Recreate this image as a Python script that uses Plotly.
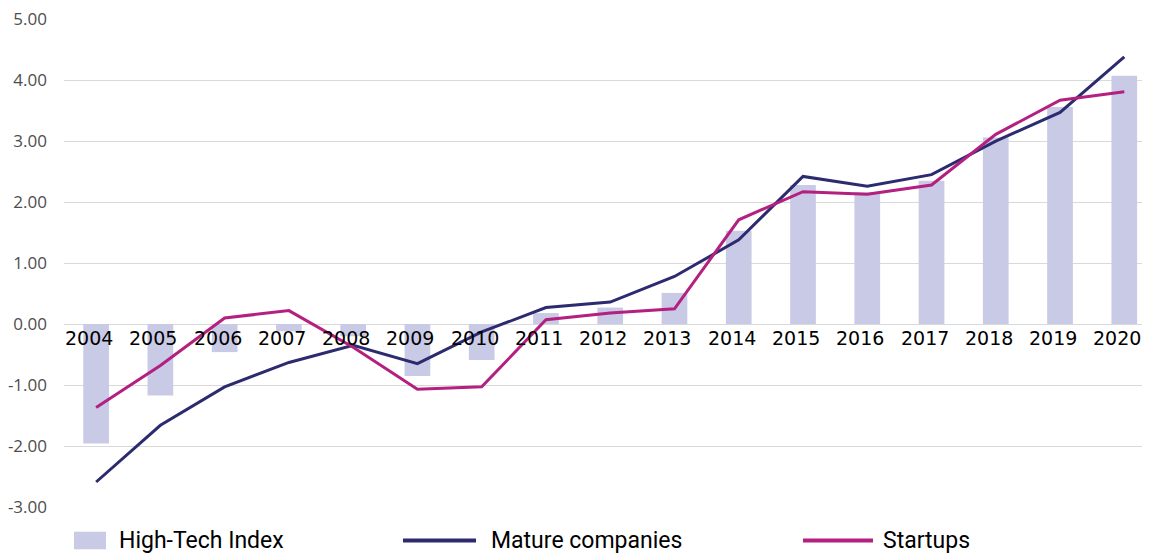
import plotly.graph_objects as go

years = ["2004", "2005", "2006", "2007", "2008", "2009", "2010", "2011", "2012",
         "2013", "2014", "2015", "2016", "2017", "2018", "2019", "2020"]
high_tech_index = [-1.96, -1.17, -0.46, -0.12, -0.20, -0.85, -0.59, 0.18, 0.27,
                   0.51, 1.53, 2.28, 2.16, 2.35, 3.06, 3.56, 4.07]
mature_companies = [-2.59, -1.66, -1.03, -0.63, -0.35, -0.65, -0.13, 0.27, 0.36,
                    0.78, 1.38, 2.42, 2.26, 2.45, 3.00, 3.47, 4.38]
startups = [-1.37, -0.68, 0.10, 0.22, -0.38, -1.07, -1.03, 0.07, 0.18,
            0.25, 1.71, 2.17, 2.13, 2.28, 3.11, 3.67, 3.81]
y_ticks = [-3, -2, -1, 0, 1, 2, 3, 4, 5]
y_tick_labels = ["-3.00", "-2.00", "-1.00", "0.00", "1.00", "2.00", "3.00", "4.00", "5.00"]

BAR_C = "#C9CAE6"
NAVY = "#2D2B6F"
MAGENTA = "#B3207F"

fig = go.Figure()
fig.add_trace(go.Bar(x=years, y=high_tech_index, name="High-Tech Index",
                     marker=dict(color=BAR_C, line=dict(width=0)), showlegend=False))
fig.add_trace(go.Scatter(x=years, y=mature_companies, name="Mature companies", mode="lines",
                         line=dict(color=NAVY, width=3), showlegend=False))
fig.add_trace(go.Scatter(x=years, y=startups, name="Startups", mode="lines",
                         line=dict(color=MAGENTA, width=3), showlegend=False))

# Year labels sitting just under the zero line (x given as category index)
for i, yr in enumerate(years):
    fig.add_annotation(x=i, y=0, xref="x", yref="y", text=yr, showarrow=False,
                       xanchor="center", yanchor="middle", yshift=-14, xshift=-7,
                       font=dict(family="DejaVu Sans", size=19, color="#000000"))

# Manual legend (page pixel -> paper coordinates; plot area spans page x 64..1150, y 19..507)
W, H = 1086.0, 488.0
def px(v):
    return (v - 64) / W
def py(v):
    return (507 - v) / H

fig.add_shape(type="rect", xref="paper", yref="paper", x0=px(74), x1=px(106),
              y0=py(549.3), y1=py(531.7), fillcolor=BAR_C, line=dict(width=0))
fig.add_shape(type="line", xref="paper", yref="paper", x0=px(403), x1=px(476),
              y0=py(540.5), y1=py(540.5), line=dict(color=NAVY, width=4))
fig.add_shape(type="line", xref="paper", yref="paper", x0=px(803), x1=px(873),
              y0=py(540.5), y1=py(540.5), line=dict(color=MAGENTA, width=4))
leg_font = dict(family="Roboto", size=23, color="#000000")
for name, xx in [("High-Tech Index", 117), ("Mature companies", 489), ("Startups", 881)]:
    fig.add_annotation(x=px(xx), y=py(540.5), xref="paper", yref="paper", text=name,
                       showarrow=False, xanchor="left", yanchor="middle", font=leg_font)

# The page places the figure 8px in from the top-left corner, so sizes compensate.
fig.update_layout(
    width=1142, height=545,
    margin=dict(l=56, r=0, t=11, b=46, autoexpand=False),
    plot_bgcolor="white", paper_bgcolor="white",
    bargap=0.6,
    xaxis=dict(type="category", range=[-0.5, 16.4], showticklabels=False,
               showgrid=False, zeroline=False, showline=False, automargin=False),
    yaxis=dict(range=[-3, 5.002], tickvals=y_ticks, ticktext=y_tick_labels,
               showgrid=True, gridcolor="#D9D9D9", gridwidth=1.3,
               zeroline=True, zerolinecolor="#D9D9D9", zerolinewidth=1.3,
               showline=False, ticks="", ticklabelstandoff=16,
               ticklabeloverflow="allow", automargin=False,
               tickfont=dict(family="Open Sans", size=17, color="#4D4D4D")),
    showlegend=False,
)

fig.write_html("out.html")
